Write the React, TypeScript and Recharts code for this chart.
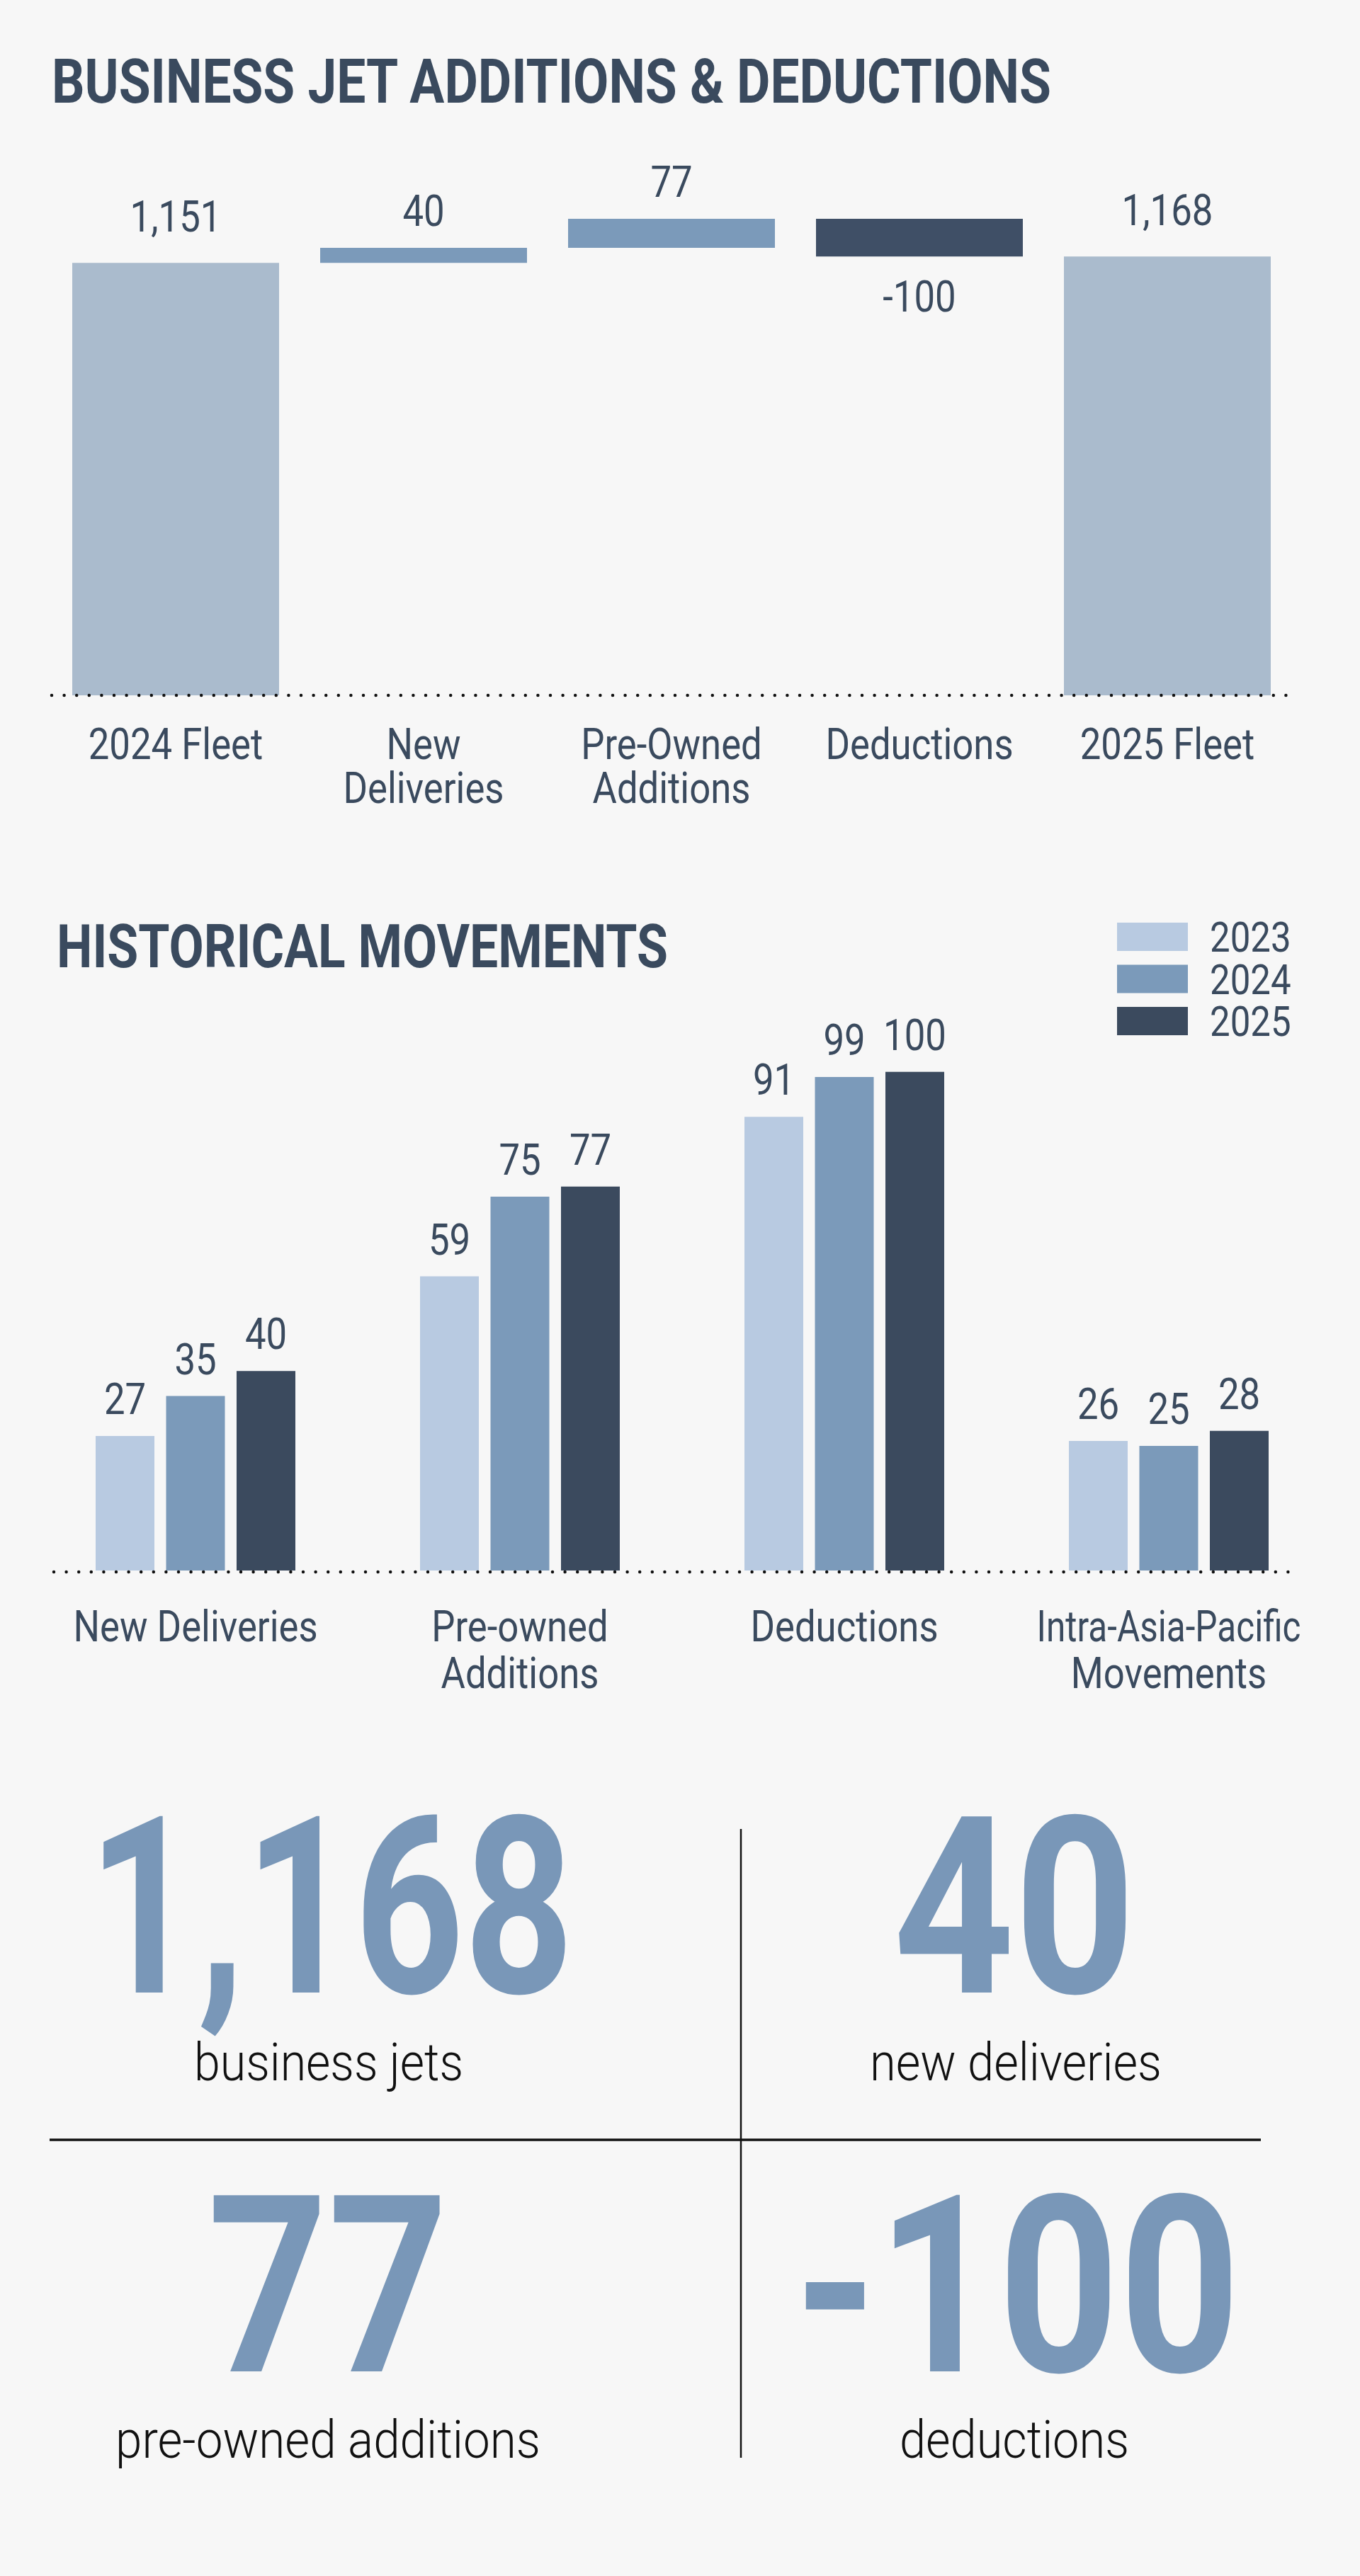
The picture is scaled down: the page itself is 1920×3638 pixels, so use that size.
import React from 'react'
import { BarChart, Bar, XAxis, YAxis, Cell, LabelList, Legend, ReferenceLine } from 'recharts'

const FONT = 'Roboto, "Noto Sans", sans-serif'
const INK = '#3a4a5e'
const PAGE_BG = '#f7f7f7'
const SQUEEZE = 0.85
// tick lines longer than this get fitted to a fixed width so they stay inside the baseline
const LONG_LINE = 14
const LONG_LINE_WIDTH = 373

// fleet walk: opening fleet, movements, closing fleet
const flowCategories = ['2024 Fleet', 'New\nDeliveries', 'Pre-Owned\nAdditions', 'Deductions', '2025 Fleet']
const flowValues = [1151, 40, 77, -100, 1168]
const flowKinds = ['total', 'step', 'step', 'step', 'total']
const flowColors = { total: '#aabbcd', up: '#7b9aba', down: '#3f4f66' }

// yearly movements
const historyCategories = ['New Deliveries', 'Pre-owned\nAdditions', 'Deductions', 'Intra-Asia-Pacific\nMovements']
const historyYears = ['2023', '2024', '2025']
const history2023 = [27, 59, 91, 26]
const history2024 = [35, 75, 99, 25]
const history2025 = [40, 77, 100, 28]
const historyColors = ['#b8cae1', '#7b9aba', '#3b4a5e']

const summaryCaptions = ['business jets', 'new deliveries', 'pre-owned additions', 'deductions']
const summaryValues = [flowValues[4], flowValues[1], flowValues[2], flowValues[3]]

// waterfall rows: an invisible base plus the visible segment
let running = 0
const flowRows = flowCategories.map((name, i) => {
  const value = flowValues[i]
  let base = 0
  let size = value
  let tone: 'total' | 'up' | 'down' = 'total'
  if (flowKinds[i] === 'total') {
    running = value
  } else if (value >= 0) {
    base = running
    running += value
    tone = 'up'
  } else {
    running += value
    base = running
    size = -value
    tone = 'down'
  }
  return { name, base, size, value, tone }
})

const historySeries = [history2023, history2024, history2025]
const historyRows = historyCategories.map((name, i) => {
  const row: Record<string, string | number> = { name }
  historyYears.forEach((yr, j) => {
    row[yr] = historySeries[j][i]
  })
  return row
})

const fmt = (v: number) => v.toLocaleString('en-US')

function Squeezed({ x, y, size, anchor = 'middle', children, weight = 400, fill = INK }: any) {
  return (
    <g transform={`translate(${x},${y}) scale(${SQUEEZE},1)`}>
      <text x={0} y={0} textAnchor={anchor} fontFamily={FONT} fontSize={size} fontWeight={weight} fill={fill}>
        {children}
      </text>
    </g>
  )
}

function LinesTick({ x, y, payload, first, gap }: any) {
  const lines = String(payload.value).split('\n')
  return (
    <g transform={`translate(${x},${y}) scale(${SQUEEZE},1)`}>
      {lines.map((l, i) => {
        const fit = l.length > LONG_LINE ? { textLength: LONG_LINE_WIDTH / SQUEEZE, lengthAdjust: 'spacingAndGlyphs' } : {}
        return (
          <text key={i} x={0} y={first + i * gap} textAnchor="middle" fontFamily={FONT} fontSize={62} fill={INK} {...fit}>
            {l}
          </text>
        )
      })}
    </g>
  )
}

function FlowLabel(props: any) {
  const { x, y, width, height } = props.viewBox || props
  const row = flowRows[props.index]
  if (!row) return null
  const cx = x + width / 2
  let baseline = y - 31
  if (row.tone === 'total') baseline = y - 44
  if (row.tone === 'down') baseline = y + height + 78
  return (
    <Squeezed x={cx} y={baseline} size={62}>
      {fmt(row.value)}
    </Squeezed>
  )
}

function TopLabel(props: any) {
  const { x, y, width } = props.viewBox || props
  return (
    <Squeezed x={x + width / 2} y={y - 31} size={62}>
      {props.value}
    </Squeezed>
  )
}

function YearLegend({ payload }: any) {
  return (
    <svg width={330} height={180} style={{ overflow: 'visible' }}>
      {(payload || []).map((p: any, i: number) => (
        <g key={p.value} transform={`translate(0,${i * 59.5})`}>
          <rect x={0} y={0} width={100} height={40} fill={p.color} />
          <Squeezed x={131} y={41} size={60} anchor="start">
            {p.value}
          </Squeezed>
        </g>
      ))}
    </svg>
  )
}

function FlowChart() {
  return (
    <BarChart width={1920} height={1200} data={flowRows} margin={{ top: 239, right: 97, bottom: 0, left: 73 }} barSize={292}>
      <XAxis
        dataKey="name"
        height={218}
        axisLine={false}
        tickLine={false}
        tickSize={0}
        tickMargin={0}
        interval={0}
        tick={(p: any) => <LinesTick {...p} first={90} gap={62} />}
      />
      <YAxis hide domain={[0, 1400]} />
      <Bar dataKey="base" stackId="walk" fill="transparent" isAnimationActive={false} />
      <Bar dataKey="size" stackId="walk" isAnimationActive={false}>
        {flowRows.map((r) => (
          <Cell key={r.name} fill={flowColors[r.tone]} />
        ))}
        <LabelList dataKey="value" content={FlowLabel} />
      </Bar>
      <ReferenceLine y={0} stroke="#111" strokeWidth={4.5} strokeDasharray="0 17.6" strokeLinecap="round" />
    </BarChart>
  )
}

function HistoryChart() {
  return (
    <BarChart
      width={1920}
      height={1200}
      data={historyRows}
      margin={{ top: 123, right: 41, bottom: 0, left: 47 }}
      barSize={83}
      barGap={16.5}
    >
      <XAxis
        dataKey="name"
        height={232}
        axisLine={false}
        tickLine={false}
        tickSize={0}
        tickMargin={0}
        interval={0}
        tick={(p: any) => <LinesTick {...p} first={100} gap={66} />}
      />
      <YAxis hide domain={[0, 120]} />
      {historyYears.map((yr, i) => (
        <Bar key={yr} dataKey={yr} name={yr} fill={historyColors[i]} isAnimationActive={false}>
          <LabelList dataKey={yr} content={TopLabel} />
        </Bar>
      ))}
      <Legend
        layout="horizontal"
        verticalAlign="middle"
        align="center"
        content={YearLegend}
        wrapperStyle={{ top: 53, left: 1577, width: 330, height: 180 }}
      />
    </BarChart>
  )
}

// big headline figures, laid out in a 2x2 grid
const tileLayout = [
  { x: 124, y: 2814, w: 686, cx: 274, cy: 2938, cw: 380 },
  { x: 1261, y: 2814, w: 342, cx: 1228, cy: 2938, cw: 412 },
  { x: 293, y: 3349, w: 340, cx: 163, cy: 3471, cw: 600 },
  { x: 1121, y: 3349, w: 630, cx: 1270, cy: 3471, cw: 324 },
]

function Overlay() {
  return (
    <svg width={1920} height={3638} style={{ position: 'absolute', left: 0, top: 0, pointerEvents: 'none' }}>
      <text x={73} y={145} textLength={1411} lengthAdjust="spacingAndGlyphs" fontFamily={FONT} fontSize={87} fontWeight={700} fill={INK}>
        BUSINESS JET ADDITIONS &amp; DEDUCTIONS
      </text>
      <text x={80} y={1366} textLength={863} lengthAdjust="spacingAndGlyphs" fontFamily={FONT} fontSize={86} fontWeight={700} fill={INK}>
        HISTORICAL MOVEMENTS
      </text>
      <line x1={76} x2={1830} y1={2220} y2={2220} stroke="#111" strokeWidth={4.5} strokeDasharray="0 17.6" strokeLinecap="round" />

      {summaryValues.map((v, i) => {
        const t = tileLayout[i]
        return (
          <g key={summaryCaptions[i]}>
            <text x={t.x} y={t.y} textLength={t.w} lengthAdjust="spacingAndGlyphs" fontFamily={FONT} fontSize={350} fontWeight={700} fill="#7997b8">
              {fmt(v)}
            </text>
            <text x={t.cx} y={t.cy} textLength={t.cw} lengthAdjust="spacingAndGlyphs" fontFamily={FONT} fontSize={75} fontWeight={300} fill="#111">
              {summaryCaptions[i]}
            </text>
          </g>
        )
      })}
      <line x1={70} x2={1780} y1={3022} y2={3022} stroke="#111" strokeWidth={3.5} />
      <line x1={1046} x2={1046} y1={2583} y2={3471} stroke="#111" strokeWidth={2.5} />
    </svg>
  )
}

export default function App() {
  return (
    <div style={{ position: 'absolute', left: 0, top: 0, width: 1920, height: 3638, background: PAGE_BG, overflow: 'hidden' }}>
      <div style={{ position: 'absolute', left: 0, top: 0 }}>
        <FlowChart />
      </div>
      <div style={{ position: 'absolute', left: 0, top: 1250 }}>
        <HistoryChart />
      </div>
      <Overlay />
    </div>
  )
}
